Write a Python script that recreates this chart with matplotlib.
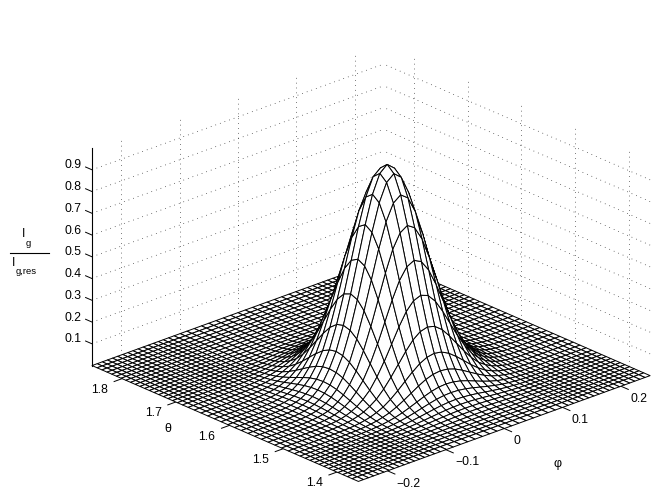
import numpy as np
import matplotlib
matplotlib.use("Agg")
import matplotlib.pyplot as plt
from matplotlib.lines import Line2D
from mpl_toolkits.mplot3d import proj3d

plt.rcParams["font.family"] = ["Liberation Sans", "DejaVu Sans"]

phi_limits = [-0.25, 0.25]
theta_limits = [1.36, 1.856]
z_limits = [0.0, 1.0]

phi_ticks = [-0.2, -0.1, 0.0, 0.1, 0.2]
phi_labels = ["\u22120.2", "\u22120.1", "0", "0.1", "0.2"]
theta_ticks = [1.4, 1.5, 1.6, 1.7, 1.8]
theta_labels = ["1.4", "1.5", "1.6", "1.7", "1.8"]
z_ticks = [0.1, 0.2, 0.3, 0.4, 0.5, 0.6, 0.7, 0.8, 0.9]
z_labels = ["0.1", "0.2", "0.3", "0.4", "0.5", "0.6", "0.7", "0.8", "0.9"]

# mesh lines: wider cells around the peak, finer on the floor
mesh_offsets = [0, 0.0125, 0.025, 0.0375, 0.05, 0.0625, 0.075, 0.0875, 0.099, 0.1095, 0.119, 0.128,
                0.1365, 0.145, 0.15375, 0.1625, 0.17125, 0.18, 0.18875, 0.1975, 0.20625, 0.215,
                0.22375, 0.2325, 0.24125, 0.25]
# relative height on those mesh lines, going away from the peak
mesh_heights = [1.0, 0.97, 0.885, 0.755, 0.605, 0.455, 0.32, 0.21, 0.14, 0.09, 0.06, 0.038,
                0.024, 0.015, 0.009, 0.005, 0.003, 0.0015, 0.001, 0, 0, 0, 0, 0, 0, 0]
theta_peak = 1.578
peak_height = 0.98
theta_low_end = 0.218
theta_high_extra = [0.2595, 0.2685, 0.278]

fig = plt.figure(figsize=(6.54, 4.93), dpi=100)
# oversized square axes so nothing gets clipped at the axes box
ax = fig.add_axes([11.6 / 654, -128.3 / 493, 700 / 654, 700 / 493], projection="3d",
                  proj_type="ortho", computed_zorder=False)
ax.set_box_aspect((1, 1, 0.6), zoom=0.8416)
ax.view_init(elev=23.4, azim=-132.4)
ax.set_xlim(*phi_limits, view_margin=0)
ax.set_ylim(*theta_limits, view_margin=0)
ax.set_zlim(*z_limits, view_margin=0)
ax.set_xticks([])
ax.set_yticks([])
ax.set_zticks([])
ax.set_axis_off()


def label_at(x, y, z, text, ha):
    x2, y2, _ = proj3d.proj_transform(x, y, z, ax.get_proj())
    ax.text2D(x2, y2, text, transform=ax.transData, ha=ha, va="center", fontsize=8.8)


def pixel_text(x, y, text, size, ha="center"):
    fig.text(x / 654, 1 - y / 493, text, ha=ha, va="center", fontsize=size)


phi = np.array([-v for v in mesh_offsets[:0:-1]] + mesh_offsets)
phi_profile = np.array(mesh_heights[:0:-1] + mesh_heights)
theta_below = mesh_offsets[1:21] + [theta_low_end]
theta_above = mesh_offsets[1:] + theta_high_extra
theta = theta_peak + np.array([-v for v in theta_below[::-1]] + [0] + theta_above)
theta_profile = peak_height * np.array(mesh_heights[20:0:-1] + mesh_heights + [0] * len(theta_high_extra))
theta_profile = np.concatenate(([0], theta_profile))
P, T = np.meshgrid(phi, theta)
Z = np.outer(theta_profile, phi_profile)

dots = dict(color="black", lw=0.5, ls=(0, (1, 6)), zorder=1)
for value in phi_ticks:
    ax.plot([value, value], [theta_limits[1]] * 2, z_limits, **dots)
for value in theta_ticks:
    ax.plot([phi_limits[1]] * 2, [value, value], z_limits, **dots)
for value in z_ticks:
    ax.plot(phi_limits, [theta_limits[1]] * 2, [value, value], **dots)
    ax.plot([phi_limits[1]] * 2, theta_limits, [value, value], **dots)

ax.plot([phi_limits[0]] * 2, [theta_limits[1]] * 2, [0, 1.0], color="black", lw=0.8, zorder=2)

ax.plot_surface(P, T, Z, rstride=1, cstride=1, color="white", edgecolor="black",
                linewidth=0.7, shade=False, zorder=3)

tick_style = dict(color="black", lw=0.7, zorder=2)
for value, label in zip(phi_ticks, phi_labels):
    ax.plot([value, value], [theta_limits[0], theta_limits[0] - 0.0137], [0, 0], **tick_style)
    label_at(value, theta_limits[0] - 0.017, -0.04, label, "left")
for value, label in zip(theta_ticks, theta_labels):
    ax.plot([phi_limits[0], phi_limits[0] - 0.0137], [value, value], [0, 0], **tick_style)
    label_at(phi_limits[0] - 0.024, value, -0.028, label, "right")
for value, label in zip(z_ticks, z_labels):
    ax.plot([phi_limits[0]] * 2, [theta_limits[1], theta_limits[1] + 0.012], [value, value], **tick_style)
    label_at(phi_limits[0], theta_limits[1] + 0.019, value, label, "right")

pixel_text(168, 429, "\u03b8", 9)
pixel_text(558, 464, "\u03c6", 9)
pixel_text(24, 234, "I", 8.8)
pixel_text(28.5, 243, "g", 6.8)
pixel_text(14, 263, "I", 8.8)
pixel_text(16, 271, "g,res", 6.8, ha="left")
fig.add_artist(Line2D([10 / 654, 49 / 654], [1 - 253 / 493] * 2, color="black", lw=0.8))

fig.savefig("out.png", dpi=100)
